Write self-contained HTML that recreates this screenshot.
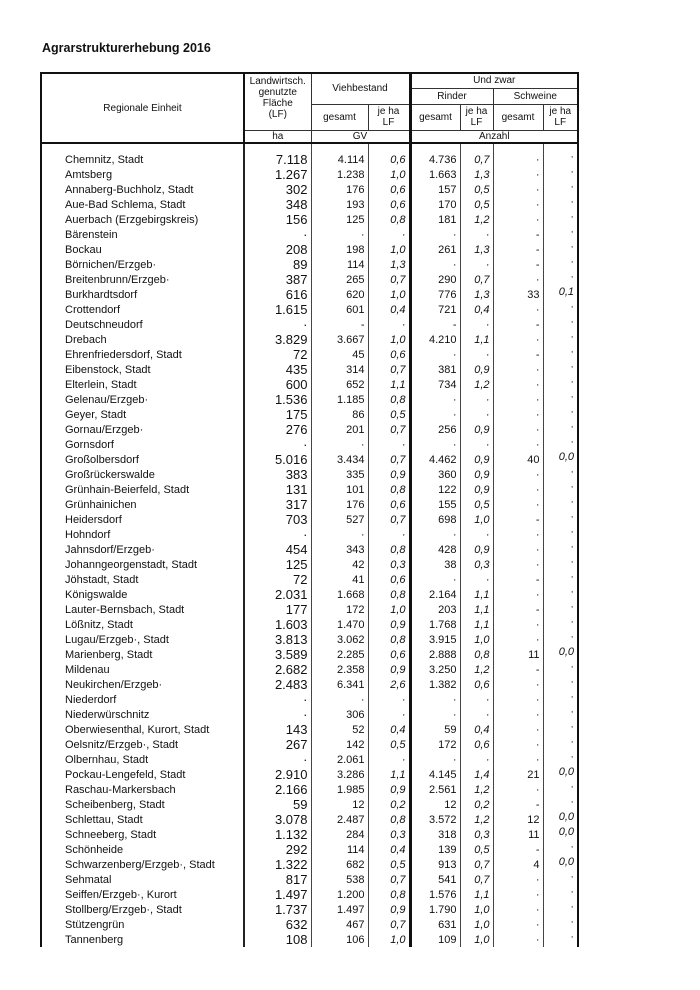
<!DOCTYPE html>
<html><head><meta charset="utf-8"><style>
body{margin:0;width:700px;height:990px;background:#fff;position:relative;font-family:"Liberation Sans",Arial,sans-serif;color:#111;overflow:hidden}
.title{position:absolute;left:42px;top:41px;font-size:12.5px;font-weight:bold}
table{position:absolute;left:40px;top:72px;border-collapse:collapse;table-layout:fixed;width:537px}
td{padding:0;font-size:11px;white-space:nowrap;overflow:hidden}
thead td{text-align:center;font-size:10px;line-height:11px;border:1px solid #333}
tbody td{height:15px;line-height:14px;text-align:right;padding-right:3px;border-left:1px solid #444;vertical-align:middle}
tbody td:first-child{text-align:left;padding-left:23px;border-left:2px solid #111}
tbody td.lf{font-size:13px;border-left:2px solid #222}
tbody td.i{font-style:italic}
tbody td.tk{border-left:3px solid #111}
tbody td.last{border-right:2px solid #111;vertical-align:top;line-height:10px}
tbody td.sp{height:8px;line-height:8px}
.tl{border-left:2px solid #111!important}
.tr{border-right:2px solid #111!important}
.tt{border-top:2px solid #111!important}
.bb{border-bottom:2px solid #111!important}
.tkl{border-left:3px solid #111!important}
</style></head><body>
<div class="title">Agrarstrukturerhebung 2016</div>
<table>
<colgroup><col style="width:203px"><col style="width:67px"><col style="width:57px"><col style="width:42px"><col style="width:50px"><col style="width:33px"><col style="width:50px"><col style="width:35px"></colgroup>
<thead>
<tr style="height:15px"><td rowspan="4" class="tl tt bb">Regionale Einheit</td><td rowspan="3" class="tt tl" style="vertical-align:top;padding-top:2px">Landwirtsch.<br>genutzte<br>Fläche<br>(LF)</td><td colspan="2" rowspan="2" class="tt">Viehbestand</td><td colspan="4" class="tt tr tkl">Und zwar</td></tr>
<tr style="height:16px"><td colspan="2" class="tkl">Rinder</td><td colspan="2" class="tr">Schweine</td></tr>
<tr style="height:26px"><td>gesamt</td><td>je ha<br>LF</td><td class="tkl">gesamt</td><td>je ha<br>LF</td><td>gesamt</td><td class="tr">je ha<br>LF</td></tr>
<tr style="height:13px"><td class="tl bb">ha</td><td colspan="2" class="bb">GV</td><td colspan="4" class="bb tr tkl">Anzahl</td></tr>
</thead>
<tbody>
<tr><td class="sp"></td><td class="sp lf"></td><td class="sp"></td><td class="sp"></td><td class="sp tk"></td><td class="sp"></td><td class="sp"></td><td class="sp last"></td></tr>
<tr><td>Chemnitz, Stadt</td><td class="lf">7.118</td><td>4.114</td><td class="i">0,6</td><td class="tk">4.736</td><td class="i">0,7</td><td>·</td><td class="last">·</td></tr>
<tr><td>Amtsberg</td><td class="lf">1.267</td><td>1.238</td><td class="i">1,0</td><td class="tk">1.663</td><td class="i">1,3</td><td>·</td><td class="last">·</td></tr>
<tr><td>Annaberg-Buchholz, Stadt</td><td class="lf">302</td><td>176</td><td class="i">0,6</td><td class="tk">157</td><td class="i">0,5</td><td>·</td><td class="last">·</td></tr>
<tr><td>Aue-Bad Schlema, Stadt</td><td class="lf">348</td><td>193</td><td class="i">0,6</td><td class="tk">170</td><td class="i">0,5</td><td>·</td><td class="last">·</td></tr>
<tr><td>Auerbach (Erzgebirgskreis)</td><td class="lf">156</td><td>125</td><td class="i">0,8</td><td class="tk">181</td><td class="i">1,2</td><td>·</td><td class="last">·</td></tr>
<tr><td>Bärenstein</td><td class="lf">·</td><td>·</td><td class="i">·</td><td class="tk">·</td><td class="i">·</td><td>-</td><td class="last">·</td></tr>
<tr><td>Bockau</td><td class="lf">208</td><td>198</td><td class="i">1,0</td><td class="tk">261</td><td class="i">1,3</td><td>-</td><td class="last">·</td></tr>
<tr><td>Börnichen/Erzgeb·</td><td class="lf">89</td><td>114</td><td class="i">1,3</td><td class="tk">·</td><td class="i">·</td><td>-</td><td class="last">·</td></tr>
<tr><td>Breitenbrunn/Erzgeb·</td><td class="lf">387</td><td>265</td><td class="i">0,7</td><td class="tk">290</td><td class="i">0,7</td><td>·</td><td class="last">·</td></tr>
<tr><td>Burkhardtsdorf</td><td class="lf">616</td><td>620</td><td class="i">1,0</td><td class="tk">776</td><td class="i">1,3</td><td>33</td><td class="last i">0,1</td></tr>
<tr><td>Crottendorf</td><td class="lf">1.615</td><td>601</td><td class="i">0,4</td><td class="tk">721</td><td class="i">0,4</td><td>·</td><td class="last">·</td></tr>
<tr><td>Deutschneudorf</td><td class="lf">·</td><td>-</td><td class="i">·</td><td class="tk">-</td><td class="i">·</td><td>-</td><td class="last">·</td></tr>
<tr><td>Drebach</td><td class="lf">3.829</td><td>3.667</td><td class="i">1,0</td><td class="tk">4.210</td><td class="i">1,1</td><td>·</td><td class="last">·</td></tr>
<tr><td>Ehrenfriedersdorf, Stadt</td><td class="lf">72</td><td>45</td><td class="i">0,6</td><td class="tk">·</td><td class="i">·</td><td>-</td><td class="last">·</td></tr>
<tr><td>Eibenstock, Stadt</td><td class="lf">435</td><td>314</td><td class="i">0,7</td><td class="tk">381</td><td class="i">0,9</td><td>·</td><td class="last">·</td></tr>
<tr><td>Elterlein, Stadt</td><td class="lf">600</td><td>652</td><td class="i">1,1</td><td class="tk">734</td><td class="i">1,2</td><td>·</td><td class="last">·</td></tr>
<tr><td>Gelenau/Erzgeb·</td><td class="lf">1.536</td><td>1.185</td><td class="i">0,8</td><td class="tk">·</td><td class="i">·</td><td>·</td><td class="last">·</td></tr>
<tr><td>Geyer, Stadt</td><td class="lf">175</td><td>86</td><td class="i">0,5</td><td class="tk">·</td><td class="i">·</td><td>·</td><td class="last">·</td></tr>
<tr><td>Gornau/Erzgeb·</td><td class="lf">276</td><td>201</td><td class="i">0,7</td><td class="tk">256</td><td class="i">0,9</td><td>·</td><td class="last">·</td></tr>
<tr><td>Gornsdorf</td><td class="lf">·</td><td>·</td><td class="i">·</td><td class="tk">·</td><td class="i">·</td><td>·</td><td class="last">·</td></tr>
<tr><td>Großolbersdorf</td><td class="lf">5.016</td><td>3.434</td><td class="i">0,7</td><td class="tk">4.462</td><td class="i">0,9</td><td>40</td><td class="last i">0,0</td></tr>
<tr><td>Großrückerswalde</td><td class="lf">383</td><td>335</td><td class="i">0,9</td><td class="tk">360</td><td class="i">0,9</td><td>·</td><td class="last">·</td></tr>
<tr><td>Grünhain-Beierfeld, Stadt</td><td class="lf">131</td><td>101</td><td class="i">0,8</td><td class="tk">122</td><td class="i">0,9</td><td>·</td><td class="last">·</td></tr>
<tr><td>Grünhainichen</td><td class="lf">317</td><td>176</td><td class="i">0,6</td><td class="tk">155</td><td class="i">0,5</td><td>·</td><td class="last">·</td></tr>
<tr><td>Heidersdorf</td><td class="lf">703</td><td>527</td><td class="i">0,7</td><td class="tk">698</td><td class="i">1,0</td><td>-</td><td class="last">·</td></tr>
<tr><td>Hohndorf</td><td class="lf">·</td><td>·</td><td class="i">·</td><td class="tk">·</td><td class="i">·</td><td>·</td><td class="last">·</td></tr>
<tr><td>Jahnsdorf/Erzgeb·</td><td class="lf">454</td><td>343</td><td class="i">0,8</td><td class="tk">428</td><td class="i">0,9</td><td>·</td><td class="last">·</td></tr>
<tr><td>Johanngeorgenstadt, Stadt</td><td class="lf">125</td><td>42</td><td class="i">0,3</td><td class="tk">38</td><td class="i">0,3</td><td>·</td><td class="last">·</td></tr>
<tr><td>Jöhstadt, Stadt</td><td class="lf">72</td><td>41</td><td class="i">0,6</td><td class="tk">·</td><td class="i">·</td><td>-</td><td class="last">·</td></tr>
<tr><td>Königswalde</td><td class="lf">2.031</td><td>1.668</td><td class="i">0,8</td><td class="tk">2.164</td><td class="i">1,1</td><td>·</td><td class="last">·</td></tr>
<tr><td>Lauter-Bernsbach, Stadt</td><td class="lf">177</td><td>172</td><td class="i">1,0</td><td class="tk">203</td><td class="i">1,1</td><td>-</td><td class="last">·</td></tr>
<tr><td>Lößnitz, Stadt</td><td class="lf">1.603</td><td>1.470</td><td class="i">0,9</td><td class="tk">1.768</td><td class="i">1,1</td><td>·</td><td class="last">·</td></tr>
<tr><td>Lugau/Erzgeb·, Stadt</td><td class="lf">3.813</td><td>3.062</td><td class="i">0,8</td><td class="tk">3.915</td><td class="i">1,0</td><td>·</td><td class="last">·</td></tr>
<tr><td>Marienberg, Stadt</td><td class="lf">3.589</td><td>2.285</td><td class="i">0,6</td><td class="tk">2.888</td><td class="i">0,8</td><td>11</td><td class="last i">0,0</td></tr>
<tr><td>Mildenau</td><td class="lf">2.682</td><td>2.358</td><td class="i">0,9</td><td class="tk">3.250</td><td class="i">1,2</td><td>-</td><td class="last">·</td></tr>
<tr><td>Neukirchen/Erzgeb·</td><td class="lf">2.483</td><td>6.341</td><td class="i">2,6</td><td class="tk">1.382</td><td class="i">0,6</td><td>·</td><td class="last">·</td></tr>
<tr><td>Niederdorf</td><td class="lf">·</td><td>·</td><td class="i">·</td><td class="tk">·</td><td class="i">·</td><td>·</td><td class="last">·</td></tr>
<tr><td>Niederwürschnitz</td><td class="lf">·</td><td>306</td><td class="i">·</td><td class="tk">·</td><td class="i">·</td><td>·</td><td class="last">·</td></tr>
<tr><td>Oberwiesenthal, Kurort, Stadt</td><td class="lf">143</td><td>52</td><td class="i">0,4</td><td class="tk">59</td><td class="i">0,4</td><td>·</td><td class="last">·</td></tr>
<tr><td>Oelsnitz/Erzgeb·, Stadt</td><td class="lf">267</td><td>142</td><td class="i">0,5</td><td class="tk">172</td><td class="i">0,6</td><td>·</td><td class="last">·</td></tr>
<tr><td>Olbernhau, Stadt</td><td class="lf">·</td><td>2.061</td><td class="i">·</td><td class="tk">·</td><td class="i">·</td><td>·</td><td class="last">·</td></tr>
<tr><td>Pockau-Lengefeld, Stadt</td><td class="lf">2.910</td><td>3.286</td><td class="i">1,1</td><td class="tk">4.145</td><td class="i">1,4</td><td>21</td><td class="last i">0,0</td></tr>
<tr><td>Raschau-Markersbach</td><td class="lf">2.166</td><td>1.985</td><td class="i">0,9</td><td class="tk">2.561</td><td class="i">1,2</td><td>·</td><td class="last">·</td></tr>
<tr><td>Scheibenberg, Stadt</td><td class="lf">59</td><td>12</td><td class="i">0,2</td><td class="tk">12</td><td class="i">0,2</td><td>-</td><td class="last">·</td></tr>
<tr><td>Schlettau, Stadt</td><td class="lf">3.078</td><td>2.487</td><td class="i">0,8</td><td class="tk">3.572</td><td class="i">1,2</td><td>12</td><td class="last i">0,0</td></tr>
<tr><td>Schneeberg, Stadt</td><td class="lf">1.132</td><td>284</td><td class="i">0,3</td><td class="tk">318</td><td class="i">0,3</td><td>11</td><td class="last i">0,0</td></tr>
<tr><td>Schönheide</td><td class="lf">292</td><td>114</td><td class="i">0,4</td><td class="tk">139</td><td class="i">0,5</td><td>-</td><td class="last">·</td></tr>
<tr><td>Schwarzenberg/Erzgeb·, Stadt</td><td class="lf">1.322</td><td>682</td><td class="i">0,5</td><td class="tk">913</td><td class="i">0,7</td><td>4</td><td class="last i">0,0</td></tr>
<tr><td>Sehmatal</td><td class="lf">817</td><td>538</td><td class="i">0,7</td><td class="tk">541</td><td class="i">0,7</td><td>·</td><td class="last">·</td></tr>
<tr><td>Seiffen/Erzgeb·, Kurort</td><td class="lf">1.497</td><td>1.200</td><td class="i">0,8</td><td class="tk">1.576</td><td class="i">1,1</td><td>·</td><td class="last">·</td></tr>
<tr><td>Stollberg/Erzgeb·, Stadt</td><td class="lf">1.737</td><td>1.497</td><td class="i">0,9</td><td class="tk">1.790</td><td class="i">1,0</td><td>·</td><td class="last">·</td></tr>
<tr><td>Stützengrün</td><td class="lf">632</td><td>467</td><td class="i">0,7</td><td class="tk">631</td><td class="i">1,0</td><td>·</td><td class="last">·</td></tr>
<tr><td>Tannenberg</td><td class="lf">108</td><td>106</td><td class="i">1,0</td><td class="tk">109</td><td class="i">1,0</td><td>·</td><td class="last">·</td></tr>
</tbody>
</table>
</body></html>
